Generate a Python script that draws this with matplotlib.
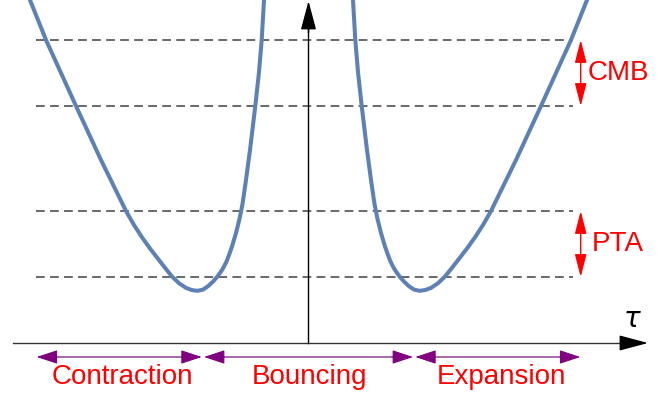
import matplotlib
matplotlib.use("Agg")
import matplotlib.pyplot as plt

plt.rcParams['lines.scale_dashes'] = False

# ---- data ----
tau_left = [-2.865, -2.785, -2.625, -2.475, -2.325, -2.075, -1.825, -1.745, -1.665,
            -1.585, -1.505, -1.435, -1.365, -1.295, -1.225, -1.165, -1.110, -1.055,
            -1.002, -0.955, -0.912, -0.865, -0.845, -0.820, -0.795, -0.765, -0.725,
            -0.690, -0.660, -0.625, -0.585, -0.532, -0.495, -0.468, -0.445, -0.435]
a_left = [3.63, 3.43, 3.03, 2.70, 2.37, 1.83, 1.32, 1.18, 1.057,
          0.945, 0.842, 0.752, 0.665, 0.598, 0.551, 0.529, 0.522, 0.534,
          0.57, 0.614, 0.663, 0.73, 0.765, 0.815, 0.88, 0.965, 1.10,
          1.24, 1.39, 1.63, 1.93, 2.37, 2.71, 3.03, 3.43, 3.63]
tau_right = [0.435, 0.445, 0.468, 0.495, 0.532, 0.585, 0.625, 0.660, 0.690,
             0.725, 0.765, 0.795, 0.820, 0.845, 0.865, 0.912, 0.955, 1.002,
             1.055, 1.110, 1.165, 1.225, 1.295, 1.365, 1.435, 1.505, 1.585,
             1.665, 1.745, 1.825, 2.075, 2.325, 2.475, 2.625, 2.785, 2.865]
a_right = [3.63, 3.43, 3.03, 2.71, 2.37, 1.93, 1.63, 1.39, 1.24,
           1.10, 0.965, 0.88, 0.815, 0.765, 0.73, 0.663, 0.614, 0.57,
           0.534, 0.522, 0.529, 0.551, 0.598, 0.665, 0.752, 0.842, 0.945,
           1.057, 1.18, 1.32, 1.83, 2.37, 2.70, 3.03, 3.43, 3.63]

levels = [3.03, 2.37, 1.32, 0.66]
band_labels = ["CMB", "PTA"]
band_ranges = [(3.03, 2.37), (1.32, 0.66)]
band_text_x = [2.788, 2.828]

phase_labels = ["Contraction", "Bouncing", "Expansion"]
phase_ranges = [(-2.718, -1.068), (-1.045, 1.045), (1.068, 2.718)]
phase_text_x = [-1.863, 0.015, 1.925]

# ---- figure ----
fig = plt.figure(figsize=(6.64, 4.12), dpi=100)
ax = fig.add_axes([0, 0, 1, 1])
ax.set_xlim(-3.085, 3.555)
ax.set_ylim(-0.69, 3.43)
ax.axis('off')

font = ['Liberation Sans', 'DejaVu Sans']

# dashed levels
for lv in levels:
    ax.plot([-2.725, 2.648], [lv, lv], color='#404040', lw=1.1, dashes=(6.3, 3.8), zorder=1)

# axes
ax.plot([-2.955, 3.30], [0, 0], color='#333333', lw=1.0, zorder=2)
ax.annotate('', xy=(3.395, 0), xytext=(3.15, 0),
            arrowprops=dict(arrowstyle='-|>,head_length=1.8,head_width=0.48',
                            mutation_scale=10, lw=1.0, color='black',
                            shrinkA=0, shrinkB=0), zorder=3)
ax.plot([0, 0], [0, 3.30], color='black', lw=1.0, zorder=2)
ax.annotate('', xy=(0, 3.42), xytext=(0, 3.10),
            arrowprops=dict(arrowstyle='-|>,head_length=1.8,head_width=0.48',
                            mutation_scale=10, lw=1.0, color='black',
                            shrinkA=0, shrinkB=0), zorder=3)
ax.text(3.235, 0.235, r'$\tau$', fontsize=20, ha='center', va='center',
        family=['DejaVu Serif'], style='italic')

# curve
curve_color = '#5E81B5'
ax.plot(tau_left, a_left, color=curve_color, lw=2.9, solid_capstyle='round',
        solid_joinstyle='round', zorder=4)
ax.plot(tau_right, a_right, color=curve_color, lw=2.9, solid_capstyle='round',
        solid_joinstyle='round', zorder=4)

# phase arrows and labels
y_arr = -0.14
for (x0, x1), lab, tx in zip(phase_ranges, phase_labels, phase_text_x):
    ax.plot([x0 + 0.1, x1 - 0.1], [y_arr, y_arr], color='#a868a8', lw=1.4, zorder=3)
    ax.annotate('', xy=(x0, y_arr), xytext=(x0 + 0.2, y_arr),
                arrowprops=dict(arrowstyle='-|>,head_length=1.3,head_width=0.43',
                                mutation_scale=10, lw=0.8, color='#800080',
                                shrinkA=0, shrinkB=0), zorder=4)
    ax.annotate('', xy=(x1, y_arr), xytext=(x1 - 0.2, y_arr),
                arrowprops=dict(arrowstyle='-|>,head_length=1.3,head_width=0.43',
                                mutation_scale=10, lw=0.8, color='#800080',
                                shrinkA=0, shrinkB=0), zorder=4)
    ax.text(tx, -0.345, lab, fontsize=20, color='#ff0000', ha='center', va='center',
            family=font)

# band arrows and labels
for (y0, y1), lab, tx in zip(band_ranges, band_labels, band_text_x):
    ax.annotate('', xy=(2.722, y1), xytext=(2.722, y0),
                arrowprops=dict(arrowstyle='<|-|>,head_length=1.4,head_width=0.36',
                                mutation_scale=10, lw=1.0, color='#ff0000',
                                shrinkA=0, shrinkB=0), zorder=4)
    ax.text(tx, (y0 + y1) / 2, lab, fontsize=20, color='#ff0000', ha='left',
            va='center', family=font)

fig.savefig('out.png', dpi=100)
